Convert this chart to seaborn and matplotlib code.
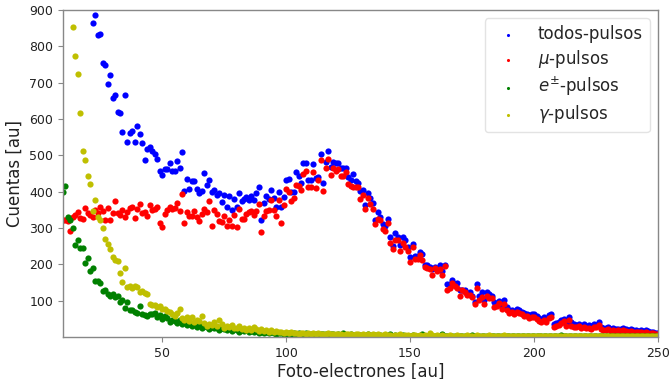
import numpy as np
import pandas as pd
import matplotlib
matplotlib.use("Agg")
import matplotlib.pyplot as plt
import seaborn as sns

nan = np.nan
x_bins = list(range(10, 251))

todos = [
    nan, nan, nan, nan, nan, nan, nan, nan, nan, nan,
    nan, nan, 865, 886, 831, 835, 754, 749, 696, 720,
    658, 666, 619, 617, 564, 665, 536, 561, 566, 538,
    582, 558, 535, 486, 518, 524, 511, 505, 491, 458,
    446, 462, 463, 479, 458, 456, 485, 464, 508, 401,
    435, 407, 430, 428, 407, 396, 403, 451, 419, 431,
    400, 405, 391, 396, 371, 391, 358, 387, 350, 380,
    359, 396, 375, 380, 384, 378, 388, 376, 396, 414,
    321, 370, 387, 380, 405, 382, 358, 398, 358, 385,
    431, 435, 400, 400, 455, 444, 424, 479, 479, 433,
    431, 477, 437, 440, 504, 424, 483, 511, 468, 483,
    479, 480, 464, 464, 464, 439, 433, 448, 428, 424,
    401, 405, 362, 396, 382, 369, 323, 343, 330, 312,
    306, 325, 275, 251, 286, 275, 254, 275, 266, 249,
    220, 257, 222, 223, 233, 229, 199, 199, 193, 187,
    194, 185, 198, 183, 198, 147, 147, 158, 147, 149,
    128, 130, 128, 119, 123, 112, 95, 147, 112, 125,
    103, 123, 117, 112, 95, 89, 100, 84, 101, 83,
    75, 73, 66, 77, 73, 70, 66, 63, 60, 64,
    64, 57, 51, 48, 55, 50, 61, 62, 35, 39,
    40, 46, 50, 37, 54, 40, 36, 34, 37, 31,
    35, 31, 33, 29, 35, 33, 40, 28, 26, 24,
    27, 22, 24, 21, 23, 22, 24, 21, 20, 22,
    19, 20, 17, 20, 16, 19, 16, 14, 15, 12, 11,
]

mu = [
    323, 321, 318, 293, 330, 337, 345, 327, 326, 355,
    341, 335, 330, 350, 341, 358, 346, 323, 355, 323,
    341, 373, 341, 337, 350, 330, 344, 356, 359, 327,
    353, 367, 341, 345, 332, 364, 350, 353, 359, 314,
    303, 339, 350, 359, 352, 354, 370, 348, 394, 315,
    345, 334, 332, 347, 330, 318, 339, 352, 343, 374,
    306, 350, 339, 319, 317, 334, 306, 321, 306, 336,
    304, 352, 325, 326, 339, 345, 348, 336, 347, 365,
    289, 334, 346, 350, 376, 350, 334, 376, 315, 364,
    407, 398, 373, 382, 419, 416, 405, 448, 456, 413,
    413, 453, 410, 431, 488, 402, 465, 490, 447, 465,
    458, 462, 444, 444, 453, 422, 416, 413, 413, 413,
    380, 392, 352, 382, 367, 352, 311, 325, 321, 297,
    291, 314, 260, 242, 266, 266, 236, 260, 249, 236,
    207, 249, 215, 215, 227, 213, 193, 189, 187, 171,
    189, 182, 187, 172, 196, 130, 134, 150, 139, 135,
    112, 128, 125, 115, 116, 110, 92, 136, 103, 110,
    92, 114, 106, 106, 83, 84, 94, 77, 92, 73,
    66, 68, 63, 70, 66, 63, 59, 57, 52, 56,
    56, 50, 44, 41, 48, 40, 53, 54, 27, 31,
    33, 39, 43, 30, 46, 30, 28, 27, 29, 24,
    28, 24, 26, 22, 28, 27, 33, 22, 20, 18,
    21, 17, 19, 16, 18, 17, 19, 16, 15, 17,
    14, 15, 13, 15, 12, 14, 12, 10, 11, 9, 8,
]

epm = [
    398, 416, 330, 321, 299, 254, 268, 244, 244, 204,
    217, 183, 190, 155, 153, 149, 126, 128, 117, 113,
    117, 111, 113, 95, 102, 80, 95, 73, 73, 70,
    66, 86, 62, 60, 58, 62, 64, 65, 55, 60,
    50, 58, 52, 40, 48, 45, 38, 46, 35, 42,
    33, 37, 30, 36, 28, 32, 25, 30, 27, 22,
    28, 24, 26, 20, 25, 22, 18, 24, 17, 21,
    19, 15, 20, 16, 18, 14, 17, 13, 16, 12,
    15, 12, 14, 10, 13, 11, 9, 12, 10, 8,
    9, 11, 8, 10, 7, 12, 9, 8, 10, 7,
    9, 7, 8, 6, 9, 7, 8, 6, 7, 8,
    6, 7, 5, 10, 6, 5, 7, 5, 6, 4,
    6, 5, 4, 7, 5, 4, 6, 4, 5, 3,
    5, 4, 8, 3, 5, 4, 3, 5, 3, 4,
    3, 5, 3, 4, 3, 9, 3, 4, 3, 2,
    4, 3, 2, 8, 3, 2, 3, 2, 4, 2,
    3, 2, 2, 3, 2, 6, 2, 3, 2, 2,
    3, 2, 2, 3, 2, 2, 3, 2, 2, 3,
    2, 2, 3, 2, 2, 2, 3, 2, 2, 2,
    2, 2, 2, 3, 2, 2, 2, 2, 2, 2,
    2, 6, 2, 2, 2, 2, 2, 2, 2, 2,
    2, 2, 2, 2, 2, 2, 3, 2, 2, 2,
    2, 2, 2, 2, 2, 2, 2, 2, 2, 2,
    2, 2, 2, 2, 2, 2, 2, 2, 2, 2, 2,
]

gamma = [
    nan, nan, nan, nan, 853, 773, 725, 617, 513, 487,
    444, 421, 346, 378, 330, 322, 300, 270, 256, 242,
    219, 213, 210, 175, 151, 190, 137, 141, 136, 139,
    137, 124, 126, 120, 118, 92, 89, 87, 82, 84,
    77, 78, 72, 70, 62, 58, 66, 77, 52, 48,
    55, 45, 55, 40, 48, 44, 57, 38, 30, 36,
    33, 40, 30, 48, 35, 25, 30, 27, 32, 24,
    26, 29, 22, 25, 20, 24, 18, 28, 21, 17,
    22, 16, 19, 15, 18, 14, 17, 13, 15, 12,
    14, 11, 13, 10, 12, 9, 12, 10, 8, 11,
    9, 10, 8, 11, 7, 9, 8, 10, 7, 9,
    8, 7, 9, 6, 8, 7, 9, 6, 8, 7,
    6, 8, 5, 7, 6, 8, 5, 7, 6, 5,
    7, 5, 6, 4, 6, 5, 7, 4, 6, 5,
    4, 6, 5, 4, 6, 3, 5, 4, 12, 5,
    4, 5, 3, 5, 4, 3, 5, 4, 3, 5,
    4, 3, 4, 5, 3, 4, 3, 5, 4, 3,
    4, 3, 5, 3, 4, 3, 4, 3, 5, 3,
    3, 4, 3, 2, 4, 3, 2, 4, 3, 2,
    3, 2, 4, 3, 2, 3, 2, 3, 2, 3,
    2, 3, 2, 3, 2, 4, 2, 3, 2, 2,
    3, 2, 2, 3, 2, 2, 3, 2, 2, 3,
    2, 2, 3, 2, 2, 2, 3, 2, 2, 2,
    2, 3, 2, 2, 2, 3, 2, 2, 2, 2, 2,
]

series_labels = ["todos-pulsos", r"$\mu$-pulsos", r"$e^{\pm}$-pulsos", r"$\gamma$-pulsos"]
series_values = [todos, mu, epm, gamma]
series_colors = ["#0000ff", "#ff0000", "#008000", "#bfbf00"]

y_ticks = [100, 200, 300, 400, 500, 600, 700, 800, 900]
x_ticks = [50, 100, 150, 200, 250]

sns.set_style("white")
plt.rcParams["font.family"] = ["DejaVu Sans"]

fig = plt.figure(figsize=(6.69, 3.79), dpi=100)
ax = fig.add_axes([63 / 669, 1 - 337 / 379, (658 - 63) / 669, (337 - 10) / 379])

for lab, vals, col in zip(series_labels, series_values, series_colors):
    df = pd.DataFrame({"x": x_bins, "y": vals}).dropna()
    sns.scatterplot(data=df, x="x", y="y", ax=ax, color=col, s=20,
                    linewidth=0, label=lab, clip_on=True)

ax.set_xlim(10, 250)
ax.set_ylim(0, 900)
ax.set_xticks(x_ticks)
ax.set_yticks(y_ticks)
ax.tick_params(axis="both", labelsize=9, length=3.5, width=0.8,
               color="#888888", labelcolor="#222222", direction="out",
               bottom=True, left=True)
ax.set_xlabel("Foto-electrones [au]", fontsize=12, color="#222222", labelpad=2)
ax.set_ylabel("Cuentas [au]", fontsize=12, color="#222222", labelpad=4)
for sp in ax.spines.values():
    sp.set_color("#888888")
    sp.set_linewidth(1.0)

leg = ax.legend(loc="upper right", fontsize=12, markerscale=0.5, frameon=True,
                labelspacing=0.3)
leg.get_frame().set_edgecolor("#dddddd")

fig.savefig("out.png", dpi=100)
